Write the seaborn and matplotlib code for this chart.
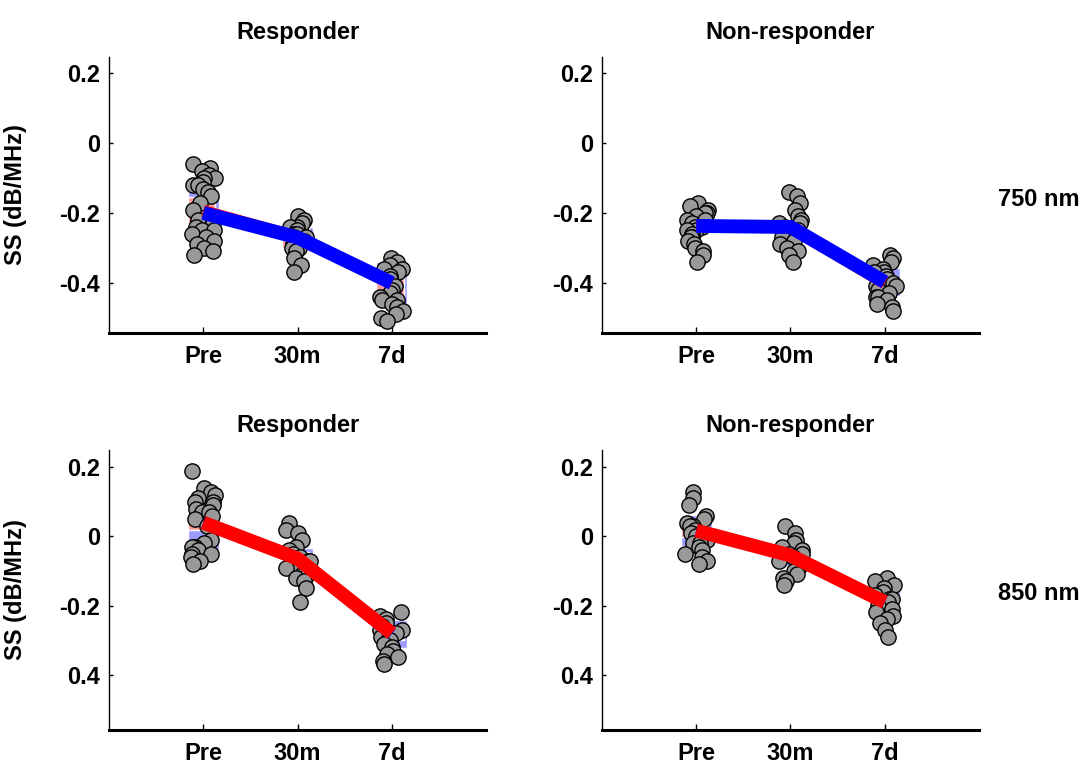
import numpy as np
import pandas as pd
import matplotlib
matplotlib.use('Agg')
import matplotlib.pyplot as plt
import seaborn as sns

times = ['Pre', '30m', '7d']

# individual points (SS, dB/MHz)
## 750 nm, responder
r750_pre = [-0.06, -0.07, -0.08, -0.09, -0.10, -0.10, -0.11, -0.12, -0.12, -0.13, -0.14,
            -0.15, -0.17, -0.19, -0.22, -0.23, -0.24, -0.25, -0.25, -0.26, -0.27, -0.28,
            -0.29, -0.30, -0.31, -0.32]
r750_30m = [-0.21, -0.22, -0.23, -0.24, -0.24, -0.25, -0.26, -0.26, -0.27, -0.27, -0.28,
            -0.29, -0.30, -0.30, -0.31, -0.33, -0.35, -0.37]
r750_7d = [-0.33, -0.34, -0.35, -0.36, -0.36, -0.37, -0.38, -0.39, -0.41, -0.42, -0.43,
           -0.44, -0.45, -0.45, -0.46, -0.47, -0.48, -0.49, -0.50, -0.51]
## 750 nm, non-responder
n750_pre = [-0.17, -0.18, -0.19, -0.20, -0.20, -0.21, -0.22, -0.22, -0.23, -0.24, -0.24,
            -0.25, -0.25, -0.26, -0.27, -0.27, -0.28, -0.29, -0.30, -0.31, -0.32, -0.34]
n750_30m = [-0.14, -0.15, -0.17, -0.19, -0.21, -0.22, -0.23, -0.23, -0.24, -0.25, -0.25,
            -0.26, -0.27, -0.28, -0.29, -0.30, -0.31, -0.32, -0.34]
n750_7d = [-0.32, -0.33, -0.34, -0.35, -0.36, -0.37, -0.37, -0.38, -0.39, -0.40, -0.41,
           -0.41, -0.42, -0.43, -0.44, -0.44, -0.45, -0.46, -0.47, -0.48]
## 850 nm, responder
r850_pre = [0.19, 0.14, 0.13, 0.12, 0.11, 0.10, 0.10, 0.09, 0.08, 0.07, 0.07, 0.06, 0.05,
            0.03, -0.01, -0.02, -0.03, -0.03, -0.04, -0.05, -0.05, -0.06, -0.07, -0.08]
r850_30m = [0.04, 0.02, 0.01, -0.01, -0.03, -0.04, -0.05, -0.06, -0.07, -0.07, -0.08,
            -0.09, -0.10, -0.11, -0.12, -0.13, -0.15, -0.19]
r850_7d = [-0.22, -0.23, -0.24, -0.25, -0.26, -0.27, -0.27, -0.28, -0.29, -0.30, -0.30,
           -0.31, -0.32, -0.33, -0.34, -0.35, -0.36, -0.37]
## 850 nm, non-responder
n850_pre = [0.13, 0.11, 0.09, 0.06, 0.05, 0.04, 0.03, 0.03, 0.02, 0.01, 0.00, -0.01,
            -0.02, -0.02, -0.03, -0.04, -0.05, -0.06, -0.07, -0.08]
n850_30m = [0.03, 0.01, -0.01, -0.02, -0.03, -0.04, -0.05, -0.05, -0.06, -0.07, -0.08,
            -0.09, -0.10, -0.11, -0.12, -0.13, -0.14]
n850_7d = [-0.12, -0.13, -0.14, -0.15, -0.16, -0.17, -0.18, -0.18, -0.19, -0.20, -0.21,
           -0.22, -0.23, -0.24, -0.25, -0.27, -0.29]

# group means and error (blue / red series)
r750_blue = [-0.20, -0.27, -0.40]
r750_blue_err = [0.065, 0.03, 0.06]
r750_red = [-0.195, -0.27, -0.40]
r750_red_err = [0.04, 0.03, 0.04]
n750_blue = [-0.237, -0.24, -0.397]
n750_blue_err = [0.02, 0.02, 0.04]
n750_red = [-0.237, -0.24, -0.40]
n750_red_err = [0.02, 0.02, 0.02]
r850_red = [0.04, -0.064, -0.28]
r850_red_err = [0.02, 0.02, 0.02]
r850_blue = [0.04, -0.064, -0.282]
r850_blue_err = [0.075, 0.03, 0.04]
n850_red = [0.017, -0.055, -0.19]
n850_red_err = [0.02, 0.02, 0.02]
n850_blue = [0.017, -0.055, -0.19]
n850_blue_err = [0.045, 0.03, 0.035]

titles = ['Responder', 'Non-responder', 'Responder', 'Non-responder']
row_labels = ['750 nm', '850 nm']
yticks = [-0.4, -0.2, 0, 0.2]
ytick_labels_top = ['-0.4', '-0.2', '0', '0.2']
ytick_labels_bottom = ['0.4', '-0.2', '0', '0.2']

sns.set_style('ticks', {'axes.edgecolor': 'black', 'text.color': 'black',
                        'xtick.color': 'black', 'ytick.color': 'black',
                        'axes.labelcolor': 'black'})
plt.rcParams['font.family'] = ['Liberation Sans', 'DejaVu Sans']
plt.rcParams['font.weight'] = 'bold'
plt.rcParams['axes.unicode_minus'] = False

fig = plt.figure(figsize=(10.86, 7.63), dpi=100)

panels = [
    (r750_pre, r750_30m, r750_7d, r750_blue, r750_blue_err, r750_red, r750_red_err, 'blue'),
    (n750_pre, n750_30m, n750_7d, n750_blue, n750_blue_err, n750_red, n750_red_err, 'blue'),
    (r850_pre, r850_30m, r850_7d, r850_blue, r850_blue_err, r850_red, r850_red_err, 'red'),
    (n850_pre, n850_30m, n850_7d, n850_blue, n850_blue_err, n850_red, n850_red_err, 'red'),
]
positions = [[0.1004, 0.5636, 0.3471, 0.3617], [0.5543, 0.5636, 0.3471, 0.3617],
             [0.1004, 0.0432, 0.3471, 0.3670], [0.5543, 0.0432, 0.3471, 0.3670]]
ylims = [(-0.543, 0.246), (-0.543, 0.246), (-0.56, 0.25), (-0.56, 0.25)]

np.random.seed(7)
for i, (pre, m30, d7, bmean, berr, rmean, rerr, top) in enumerate(panels):
    ax = fig.add_axes(positions[i])
    df = pd.DataFrame({'time': ['Pre'] * len(pre) + ['30m'] * len(m30) + ['7d'] * len(d7),
                       'ss': pre + m30 + d7})
    xs = np.arange(len(times))
    bmean, berr, rmean, rerr = map(np.array, (bmean, berr, rmean, rerr))
    # error rectangles behind the points
    ax.bar(xs, 2 * berr, bottom=bmean - berr, width=0.33, color='#9c9cff', zorder=1)
    ax.bar(xs - 0.02, 2 * rerr, bottom=rmean - rerr, width=0.29, color='#ff9c9c', zorder=1.1)
    sns.stripplot(data=df, x='time', y='ss', order=times, ax=ax, jitter=0.13,
                  color='#999999', edgecolor='black', linewidth=1, size=11, zorder=2)
    # mean lines (the hidden one sits under the visible one)
    if top == 'blue':
        ax.plot(xs, rmean, color='red', lw=9, solid_capstyle='butt', zorder=3)
        ax.plot(xs, bmean, color='blue', lw=10, solid_capstyle='butt', zorder=4)
    else:
        ax.plot(xs, bmean, color='blue', lw=9, solid_capstyle='butt', zorder=3)
        ax.plot(xs, rmean, color='red', lw=10, solid_capstyle='butt', zorder=4)

    ax.set_xlim(-1, 3)
    ax.set_ylim(*ylims[i])
    ax.set_xticks(xs)
    ax.set_xticklabels(times, fontsize=17, fontweight='bold')
    ax.set_yticks(yticks)
    ax.set_yticklabels(ytick_labels_top if i < 2 else ytick_labels_bottom,
                       fontsize=17, fontweight='bold')
    ax.tick_params(axis='y', direction='in', length=3, width=1, pad=6.5)
    ax.tick_params(axis='x', direction='in', length=4, width=1, pad=8.5)
    sns.despine(ax=ax)
    ax.spines['left'].set_linewidth(1.0)
    ax.spines['bottom'].set_linewidth(2.2)
    ax.set_xlabel('')
    ax.set_title(titles[i], fontsize=17, fontweight='bold', pad=13)
    if i % 2 == 0:
        ax.set_ylabel('SS (dB/MHz)', fontsize=17, fontweight='bold')
        ax.yaxis.set_label_coords(-0.2175, 0.5)
    else:
        ax.set_ylabel('')

fig.text(998 / 1086, 1 - 200 / 763, row_labels[0], fontsize=17, fontweight='bold', va='center')
fig.text(998 / 1086, 1 - 594 / 763, row_labels[1], fontsize=17, fontweight='bold', va='center')

fig.savefig('out.png', dpi=100)
